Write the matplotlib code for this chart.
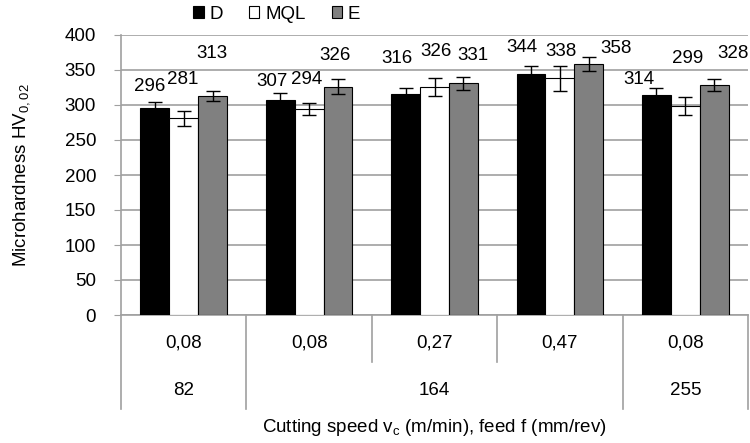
import numpy as np
import matplotlib.pyplot as plt
from matplotlib.transforms import blended_transform_factory

plt.rcParams['font.family'] = ['Liberation Sans', 'DejaVu Sans']
plt.rcParams['mathtext.default'] = 'regular'

feeds = ['0,08', '0,08', '0,27', '0,47', '0,08']
speeds = ['82', '164', '255']
speed_span = [(0, 0), (1, 3), (4, 4)]

D = [296, 307, 316, 344, 314]
MQL = [281, 294, 326, 338, 299]
E = [313, 326, 331, 358, 328]
D_err = [8, 10, 8, 11, 10]
MQL_err = [11, 9, 13, 18, 13]
E_err = [7, 11, 9, 10, 8.5]

# where Excel put the value labels: height (data units), sideways shift (px)
D_lab = [326, 333, 367, 382, 336]
MQL_lab = [336, 336, 376, 376, 367]
E_lab = [373, 371, 370, 381, 374]
D_dx = [-5, -8, -9, -9, -18]
MQL_dx = [-1, -2, 2, 1, 2]
E_dx = [-1, -3, 10, 27, 19]

fs = 13.5
fig = plt.figure(figsize=(7.5, 4.43), dpi=100)
ax = fig.add_axes([121/750, 1 - 315/443, 627/750, 280/443])

x = np.arange(len(feeds))
w = 0.23
grid_c = '#a0a0a0'
px = 1 / 125.4  # one pixel in category units
series = [(D, D_err, D_lab, D_dx, 'black', 'D', -w),
          (MQL, MQL_err, MQL_lab, MQL_dx, 'white', 'MQL', 0),
          (E, E_err, E_lab, E_dx, '#808080', 'E', w)]
handles = []
for vals, err, lab, dx, col, name, off in series:
    b = ax.bar(x + off, vals, w, color=col, edgecolor='black', linewidth=0.8,
               yerr=err, capsize=5, error_kw=dict(ecolor='black', elinewidth=1, capthick=1),
               label=name, zorder=3)
    handles.append(b)
    for xi, v, ly, d in zip(x + off, vals, lab, dx):
        ax.text(xi + d * px, ly, str(v), ha='center', va='center', fontsize=fs)

ax.set_xlim(-0.5, len(feeds) - 0.5)
ax.set_ylim(0, 400)
ax.set_yticks(range(0, 401, 50))
ax.tick_params(axis='y', labelsize=fs, length=5, color=grid_c, pad=13)
ax.set_xticks([])
ax.yaxis.grid(True, color=grid_c, linewidth=1.2, zorder=0)
for s in ['top', 'right']:
    ax.spines[s].set_visible(False)
for s in ['left', 'bottom']:
    ax.spines[s].set_color(grid_c)
    ax.spines[s].set_linewidth(1.2)
ax.set_ylabel('Microhardness HV$_{0,02}$', fontsize=fs)
ax.yaxis.set_label_coords(-0.142, 0.5)

# two-level category axis
tr = blended_transform_factory(ax.transData, ax.transAxes)
for i, f in enumerate(feeds):
    ax.text(i, -0.1, f, transform=tr, ha='center', va='center', fontsize=fs)
for (a, b), s in zip(speed_span, speeds):
    ax.text((a + b) / 2, -0.268, s, transform=tr, ha='center', va='center', fontsize=fs)
long_lines = [-0.5] + [b + 0.5 for a, b in speed_span]
for xb in np.arange(-0.5, len(feeds), 1.0):
    y_end = -0.335 if xb in long_lines else -0.168
    ax.plot([xb, xb], [0, y_end], transform=tr, color=grid_c, linewidth=1.2, clip_on=False)
ax.text(2, -0.40, 'Cutting speed v$_c$ (m/min), feed f (mm/rev)', transform=tr,
        ha='center', va='center', fontsize=fs)

fig.legend(handles=handles, loc='center', bbox_to_anchor=(0.369, 0.968), ncol=3,
           frameon=False, fontsize=fs, handlelength=0.55, handleheight=0.55,
           handletextpad=0.3, columnspacing=1.4, borderaxespad=0)

fig.savefig('out.png', dpi=100)
